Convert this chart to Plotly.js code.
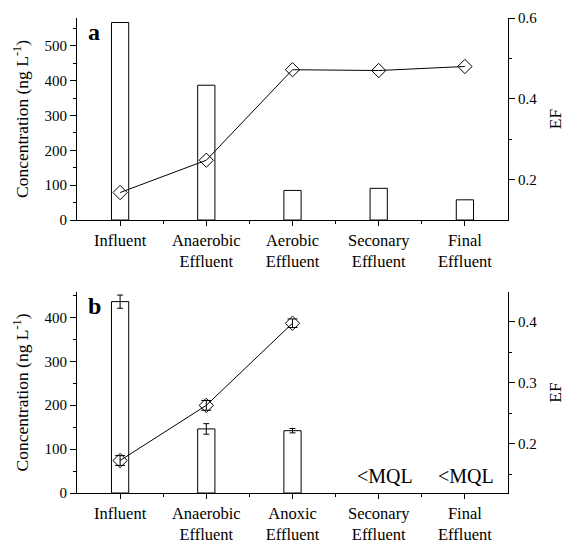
<!DOCTYPE html>
<html><head><meta charset="utf-8">
<script src="https://cdn.plot.ly/plotly-3.0.1.min.js"></script>
<style>body{margin:0;background:#fff}#c{width:565px;height:544px}</style>
</head><body><div id="c"></div>
<script>
var catsA = ['Influent', 'Anaerobic<br>Effluent', 'Aerobic<br>Effluent', 'Seconary<br>Effluent', 'Final<br>Effluent'];
var catsB = ['Influent', 'Anaerobic<br>Effluent', 'Anoxic<br>Effluent', 'Seconary<br>Effluent', 'Final<br>Effluent'];
var pos = [0, 1, 2, 3, 4];
var concA = [567, 387, 85, 91, 58];
var efA = [0.168, 0.248, 0.472, 0.470, 0.480];
var concB = [436, 146, 142, null, null];
var concBErr = [15, 12, 5, 0, 0];
var efB = [0.173, 0.263, 0.397, null, null];
var efBErr = [0.008, 0.008, 0.007, 0, 0];
var mqlLabel = '<MQL';

var F = 'Liberation Serif, Times New Roman, serif';
var barStyle = {color: '#ffffff', line: {color: '#000', width: 1}};
var mk = {symbol: 'diamond-open', size: 11, color: '#000', line: {width: 1}};
var traces = [
  {type: 'bar', x: pos, y: concA, width: 0.2, marker: barStyle, xaxis: 'x', yaxis: 'y', showlegend: false},
  {type: 'scatter', mode: 'lines+markers', x: pos, y: efA, xaxis: 'x', yaxis: 'y2',
   line: {color: '#000', width: 1}, marker: mk, showlegend: false},
  {type: 'bar', x: pos, y: concB, width: 0.2, marker: barStyle, xaxis: 'x2', yaxis: 'y3', showlegend: false,
   error_y: {type: 'data', array: concBErr, color: '#000', thickness: 1, width: 3}},
  {type: 'scatter', mode: 'lines+markers', x: pos, y: efB, xaxis: 'x2', yaxis: 'y4',
   line: {color: '#000', width: 1}, marker: mk, showlegend: false,
   error_y: {type: 'data', array: efBErr, color: '#000', thickness: 1, width: 5}}
];

function xax(anchor, txt) {
  return {domain: [0, 1], anchor: anchor, range: [-0.5, 4.5], tickmode: 'array', tickvals: pos, ticktext: txt,
    showline: true, linecolor: '#000', linewidth: 1, ticks: 'outside', ticklen: 5, tickcolor: '#000',
    minor: {tickmode: 'array', tickvals: [0.5, 1.5, 2.5, 3.5], ticks: 'outside', ticklen: 3, tickcolor: '#000'},
    showgrid: false, zeroline: false, tickfont: {family: F, size: 16.5, color: '#000'}, fixedrange: true};
}
function yax(o) {
  var base = {showline: true, linecolor: '#000', linewidth: 1, ticks: 'outside', ticklen: 6, tickcolor: '#000',
    showgrid: false, zeroline: false, tickfont: {family: F, size: 15, color: '#000'}};
  for (var k in o) base[k] = o[k];
  return base;
}
var tf = {family: F, size: 17.5, color: '#000'};

var layout = {
  width: 565, height: 544,
  margin: {l: 77, r: 57, t: 18, b: 51},
  paper_bgcolor: '#fff', plot_bgcolor: '#fff',
  barmode: 'overlay', bargap: 0,
  font: {family: F, color: '#000'},
  xaxis: xax('y', catsA),
  xaxis2: xax('y3', catsB),
  yaxis: yax({domain: [0.5747, 1], anchor: 'x', range: [0, 580], dtick: 100,
    minor: {dtick: 50, ticks: 'outside', ticklen: 3, tickcolor: '#000'},
    title: {text: 'Concentration (ng L<sup>-1</sup>)', font: tf, standoff: 11}}),
  yaxis2: yax({overlaying: 'y', side: 'right', anchor: 'x', range: [0.1, 0.6], tickvals: [0.2, 0.4, 0.6], ticktext: ['0.2', '0.4', '0.6'],
    minor: {tickvals: [0.3, 0.5], ticks: 'outside', ticklen: 3, tickcolor: '#000'},
    title: {text: 'EF', font: tf, standoff: 16}}),
  yaxis3: yax({domain: [0, 0.4232], anchor: 'x2', range: [0, 458], dtick: 100,
    minor: {dtick: 50, ticks: 'outside', ticklen: 3, tickcolor: '#000'},
    title: {text: 'Concentration (ng L<sup>-1</sup>)', font: tf, standoff: 11}}),
  yaxis4: yax({overlaying: 'y3', side: 'right', anchor: 'x2', range: [0.12, 0.448], tickvals: [0.2, 0.3, 0.4], ticktext: ['0.2', '0.3', '0.4'],
    minor: {tickvals: [0.15, 0.25, 0.35], ticks: 'outside', ticklen: 3, tickcolor: '#000'},
    title: {text: 'EF', font: tf, standoff: 16}}),
  annotations: [
    {text: '<b>a</b>', xref: 'paper', yref: 'paper', x: 0.02, y: 1.002, xanchor: 'left', yanchor: 'top', showarrow: false, font: {family: F, size: 24, color: '#000'}},
    {text: '<b>b</b>', xref: 'paper', yref: 'paper', x: 0.02, y: 0.425, xanchor: 'left', yanchor: 'top', showarrow: false, font: {family: F, size: 24, color: '#000'}},
    {text: mqlLabel, xref: 'x2', yref: 'y3', x: pos[3], y: 8, xshift: 6, yanchor: 'bottom', showarrow: false, font: {family: F, size: 20, color: '#000'}},
    {text: mqlLabel, xref: 'x2', yref: 'y3', x: pos[4], y: 8, xshift: 1, yanchor: 'bottom', showarrow: false, font: {family: F, size: 20, color: '#000'}}
  ]
};
Plotly.newPlot('c', traces, layout, {displayModeBar: false, staticPlot: true});
</script></body></html>
